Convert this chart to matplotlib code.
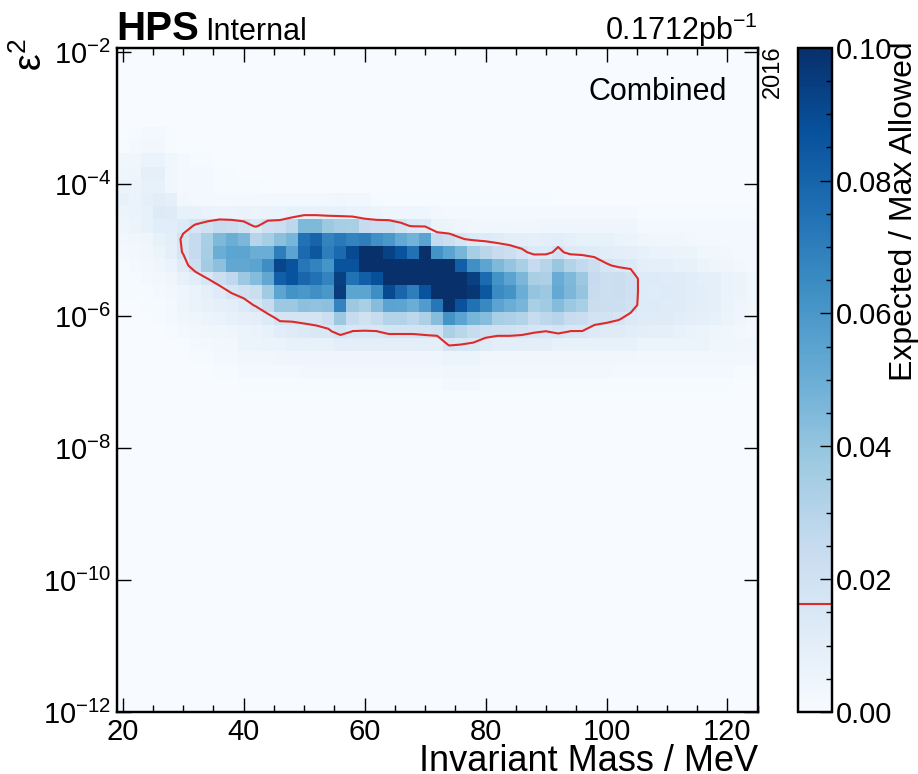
import numpy as np
import matplotlib
matplotlib.use("Agg")
import matplotlib.pyplot as plt
from matplotlib.ticker import MultipleLocator, FixedLocator, NullLocator, FormatStrFormatter

plt.rcParams["font.family"] = ["Liberation Sans", "DejaVu Sans"]
plt.rcParams["mathtext.fontset"] = "custom"
plt.rcParams["mathtext.rm"] = "Liberation Sans"
plt.rcParams["mathtext.it"] = "Liberation Sans:italic"
plt.rcParams["mathtext.bf"] = "Liberation Sans:bold"

# binning: 2 MeV mass bins, 0.2-decade bins in log10(eps^2) (listed top to bottom)
mass_edges = np.arange(19, 126, 2)
log_eps2_edges = -1.935 - 0.2 * np.arange(51)

# expected / max allowed, in units of 1e-3, one list per eps^2 bin (row index from the top)
row_06 = [0, 1, 2, 2, 1, 0, 0, 0, 0, 0, 0, 0, 0, 0, 0, 0, 0, 0, 0, 0, 0, 0, 0, 0, 0, 0, 0,
          0, 0, 0, 0, 0, 0, 0, 0, 0, 0, 0, 0, 0, 0, 0, 0, 0, 0, 0, 0, 0, 0, 0, 0, 0, 0]
row_07 = [1, 2, 3, 3, 1, 0, 0, 0, 0, 0, 0, 0, 0, 0, 0, 0, 0, 0, 0, 0, 0, 0, 0, 0, 0, 0, 0,
          0, 0, 0, 0, 0, 0, 0, 0, 0, 0, 0, 0, 0, 0, 0, 0, 0, 0, 0, 0, 0, 0, 0, 0, 0, 0]
row_08 = [4, 4, 7, 7, 4, 2, 1, 1, 0, 0, 0, 0, 0, 0, 0, 0, 0, 0, 0, 0, 0, 0, 0, 0, 0, 0, 0,
          0, 0, 0, 0, 0, 0, 0, 0, 0, 0, 0, 0, 0, 0, 0, 0, 0, 0, 0, 0, 0, 0, 0, 0, 0, 0]
row_09 = [5, 5, 9, 9, 4, 2, 2, 2, 1, 1, 0, 0, 0, 0, 0, 0, 0, 0, 0, 0, 0, 0, 0, 0, 0, 0, 0,
          0, 0, 0, 0, 0, 0, 0, 0, 0, 0, 0, 0, 0, 0, 0, 0, 0, 0, 0, 0, 0, 0, 0, 0, 0, 0]
row_10 = [6, 6, 8, 8, 4, 2, 2, 2, 1, 1, 1, 1, 0, 0, 0, 0, 0, 0, 0, 0, 0, 0, 0, 0, 0, 0, 0,
          0, 0, 0, 0, 0, 0, 0, 0, 0, 0, 0, 0, 0, 0, 0, 0, 0, 0, 0, 0, 0, 0, 0, 0, 0, 0]
row_11 = [8, 7, 9, 11, 9, 3, 2, 2, 2, 2, 2, 2, 2, 2, 2, 2, 2, 3, 4, 3,
          3, 1, 1, 1, 1, 1, 1, 1, 1, 1, 1, 1, 1, 1, 1, 1, 0, 0, 0, 0,
          0, 0, 0, 0, 0, 0, 0, 0, 0, 0, 0, 0, 0]
row_12 = [6, 7, 8, 13, 12, 8, 8, 7, 6, 6, 7, 6, 7, 7, 8, 8, 8, 8, 8, 7,
          7, 6, 5, 5, 5, 5, 3, 2, 2, 2, 2, 2, 2, 2, 2, 2, 2, 2, 2, 2,
          2, 2, 2, 1, 1, 1, 1, 1, 1, 1, 1, 1, 1]
row_13 = [5, 6, 8, 11, 11, 13, 17, 20, 24, 23, 20, 15, 21, 22, 28, 45, 45, 38, 35, 34,
          25, 23, 23, 19, 15, 14, 6, 6, 5, 4, 4, 4, 4, 4, 4, 5, 5, 5, 5, 5,
          5, 5, 5, 2, 2, 2, 2, 2, 2, 2, 2, 2, 2]
row_14 = [3, 4, 5, 8, 10, 18, 25, 34, 45, 50, 46, 30, 35, 42, 47, 75, 80, 68, 72, 68,
          70, 63, 60, 52, 48, 55, 25, 22, 17, 14, 13, 12, 10, 10, 9, 10, 11, 9, 8, 8,
          8, 7, 6, 5, 4, 4, 4, 3, 2, 2, 2, 2, 2]
row_15 = [2, 3, 4, 6, 9, 17, 25, 35, 50, 54, 54, 50, 50, 70, 55, 78, 85, 70, 78, 90,
          110, 110, 93, 87, 75, 110, 62, 55, 47, 35, 29, 24, 22, 18, 14, 13, 19, 13, 13, 12,
          11, 10, 9, 8, 7, 7, 6, 6, 4, 4, 3, 2, 2]
row_16 = [1, 2, 3, 5, 7, 12, 22, 36, 42, 53, 53, 55, 64, 92, 87, 73, 68, 61, 87, 87,
          110, 110, 110, 110, 100, 110, 110, 110, 82, 63, 54, 45, 40, 34, 25, 30, 39, 31, 26, 22,
          17, 15, 14, 10, 9, 9, 8, 8, 6, 5, 5, 3, 2]
row_17 = [1, 1, 2, 3, 5, 8, 11, 16, 22, 27, 38, 44, 53, 82, 87, 79, 75, 68, 94, 75,
          82, 88, 110, 110, 100, 110, 110, 110, 110, 94, 77, 62, 55, 46, 34, 33, 51, 45, 38, 25,
          22, 23, 21, 13, 13, 12, 12, 11, 9, 9, 7, 6, 4]
row_18 = [1, 1, 1, 2, 3, 5, 7, 9, 12, 17, 20, 23, 37, 54, 62, 60, 63, 60, 95, 54,
          54, 64, 90, 79, 70, 87, 110, 110, 110, 97, 85, 65, 62, 50, 40, 38, 52, 46, 40, 24,
          22, 23, 21, 13, 12, 13, 12, 11, 10, 9, 7, 6, 4]
row_19 = [0, 0, 1, 1, 2, 5, 7, 8, 9, 10, 13, 17, 24, 38, 38, 42, 41, 42, 68, 38,
          34, 43, 55, 54, 50, 58, 73, 105, 87, 75, 66, 55, 50, 47, 34, 37, 44, 38, 34, 23,
          22, 22, 20, 13, 13, 12, 12, 11, 10, 9, 7, 5, 4]
row_20 = [0, 0, 0, 1, 2, 4, 5, 6, 7, 8, 9, 10, 13, 18, 18, 18, 18, 22, 38, 24,
          20, 24, 31, 31, 28, 33, 43, 62, 55, 47, 43, 34, 33, 31, 24, 28, 30, 24, 23, 19,
          19, 17, 14, 12, 12, 12, 11, 10, 9, 8, 6, 5, 3]
row_21 = [0, 0, 0, 0, 1, 2, 3, 4, 4, 5, 6, 7, 8, 11, 12, 14, 15, 15, 19, 16,
          16, 16, 18, 18, 18, 19, 20, 33, 29, 24, 21, 20, 20, 19, 17, 16, 18, 16, 16, 14,
          12, 12, 11, 10, 9, 9, 8, 7, 6, 5, 4, 3, 2]
row_22 = [0, 0, 0, 0, 0, 1, 2, 2, 3, 3, 6, 6, 7, 7, 8, 8, 8, 8, 10, 10,
          10, 10, 10, 10, 10, 10, 10, 17, 16, 15, 12, 10, 10, 10, 10, 10, 8, 8, 8, 8,
          8, 8, 8, 6, 6, 6, 6, 6, 6, 4, 4, 4, 4]
row_23 = [0, 0, 0, 0, 0, 0, 1, 1, 2, 2, 4, 4, 4, 5, 5, 5, 5, 5, 5, 5,
          5, 5, 5, 5, 5, 5, 5, 6, 6, 6, 4, 4, 4, 4, 4, 4, 4, 4, 4, 4,
          4, 4, 4, 3, 3, 3, 3, 3, 3, 3, 3, 3, 3]
row_24 = [0, 0, 0, 0, 0, 0, 0, 0, 1, 1, 2, 2, 2, 2, 2, 3, 3, 3, 3, 3,
          3, 3, 3, 3, 3, 3, 3, 4, 4, 4, 3, 3, 3, 3, 3, 3, 3, 3, 3, 3,
          3, 2, 2, 2, 2, 2, 2, 2, 2, 2, 2, 1, 1]
row_25 = [0, 0, 0, 0, 0, 0, 0, 0, 0, 0, 1, 1, 1, 1, 1, 1, 1, 1, 1, 1,
          1, 1, 1, 1, 1, 1, 1, 2, 2, 2, 1, 1, 1, 1, 1, 1, 1, 1, 1, 1,
          1, 1, 1, 1, 1, 1, 1, 1, 1, 1, 1, 0, 0]

contour_level = 0.0162

rows = [row_06, row_07, row_08, row_09, row_10, row_11, row_12, row_13, row_14, row_15,
        row_16, row_17, row_18, row_19, row_20, row_21, row_22, row_23, row_24, row_25]

ratio = np.zeros((len(log_eps2_edges) - 1, len(mass_edges) - 1))
ratio[6:6 + len(rows)] = np.array(rows) / 1000.0

mass_centers = 0.5 * (mass_edges[:-1] + mass_edges[1:])
log_eps2_centers = 0.5 * (log_eps2_edges[:-1] + log_eps2_edges[1:])

W, H = 918, 774
fig = plt.figure(figsize=(W / 100, H / 100), dpi=100)
ax = fig.add_axes([116.7 / W, 62 / H, 641 / W, 664.3 / H])
ax.set_facecolor(plt.get_cmap("Blues")(0.0))

mesh = ax.pcolormesh(mass_edges, 10.0 ** log_eps2_edges, ratio,
                     cmap="Blues", vmin=0, vmax=0.1, shading="flat")
cs = ax.contour(mass_centers, 10.0 ** log_eps2_centers, ratio,
                levels=[contour_level], colors="#dd2a2a", linewidths=1.5)

ax.set_yscale("log")
ax.set_xlim(19, 125)
ax.set_ylim(1e-12, 10 ** -1.935)

ax.xaxis.set_major_locator(MultipleLocator(20))
ax.xaxis.set_minor_locator(MultipleLocator(5))
ax.yaxis.set_major_locator(FixedLocator(10.0 ** np.arange(-12, -1, 2)))
ax.yaxis.set_minor_locator(NullLocator())

ax.tick_params(which="both", direction="in", top=True, right=True, width=1.0)
ax.tick_params(which="major", length=10, labelsize=21)
ax.tick_params(which="minor", length=5)
ax.tick_params(axis="x", which="major", pad=4)
ax.tick_params(axis="y", which="major", pad=4)
for spine in ax.spines.values():
    spine.set_linewidth(1.75)

ax.set_xlabel("Invariant Mass / MeV", loc="right", fontsize=26)
ax.xaxis.set_label_coords(1.0, -0.0475)
ax.set_ylabel("ε$^2$", loc="top", fontsize=27)
ax.yaxis.set_label_coords(-0.104, 1.0145)

ax.text(0.0, 1.012, "HPS", transform=ax.transAxes, fontsize=29,
        fontweight="bold", ha="left", va="baseline")
ax.text(0.138, 1.012, "Internal", transform=ax.transAxes, fontsize=22,
        ha="left", va="baseline")
ax.text(1.0, 1.012, "0.1712pb$^{-1}$", transform=ax.transAxes, fontsize=22,
        ha="right", va="baseline")
ax.text(0.952, 0.933, "Combined", transform=ax.transAxes, fontsize=22,
        ha="right", va="center")
fig.text(772.5 / W, 1 - 72 / H, "2016", rotation=90, fontsize=17,
         ha="center", va="center")

cax = fig.add_axes([798.3 / W, 62 / H, 33.4 / W, 664.3 / H])
cbar = fig.colorbar(mesh, cax=cax)
cbar.add_lines(cs)
cbar.set_ticks([0.0, 0.02, 0.04, 0.06, 0.08, 0.10])
cax.yaxis.set_major_formatter(FormatStrFormatter("%.2f"))
cax.yaxis.set_minor_locator(MultipleLocator(0.005))
cax.tick_params(which="both", direction="in", left=False, right=True,
                width=1.0, labelsize=21, pad=3)
cax.tick_params(which="major", length=8.5)
cax.tick_params(which="minor", length=4.5)
cbar.outline.set_linewidth(1.75)
cbar.set_label("Expected / Max Allowed", loc="top", fontsize=23)
cax.yaxis.set_label_coords(2.72, 1.01)

fig.savefig("out.png", dpi=100)
